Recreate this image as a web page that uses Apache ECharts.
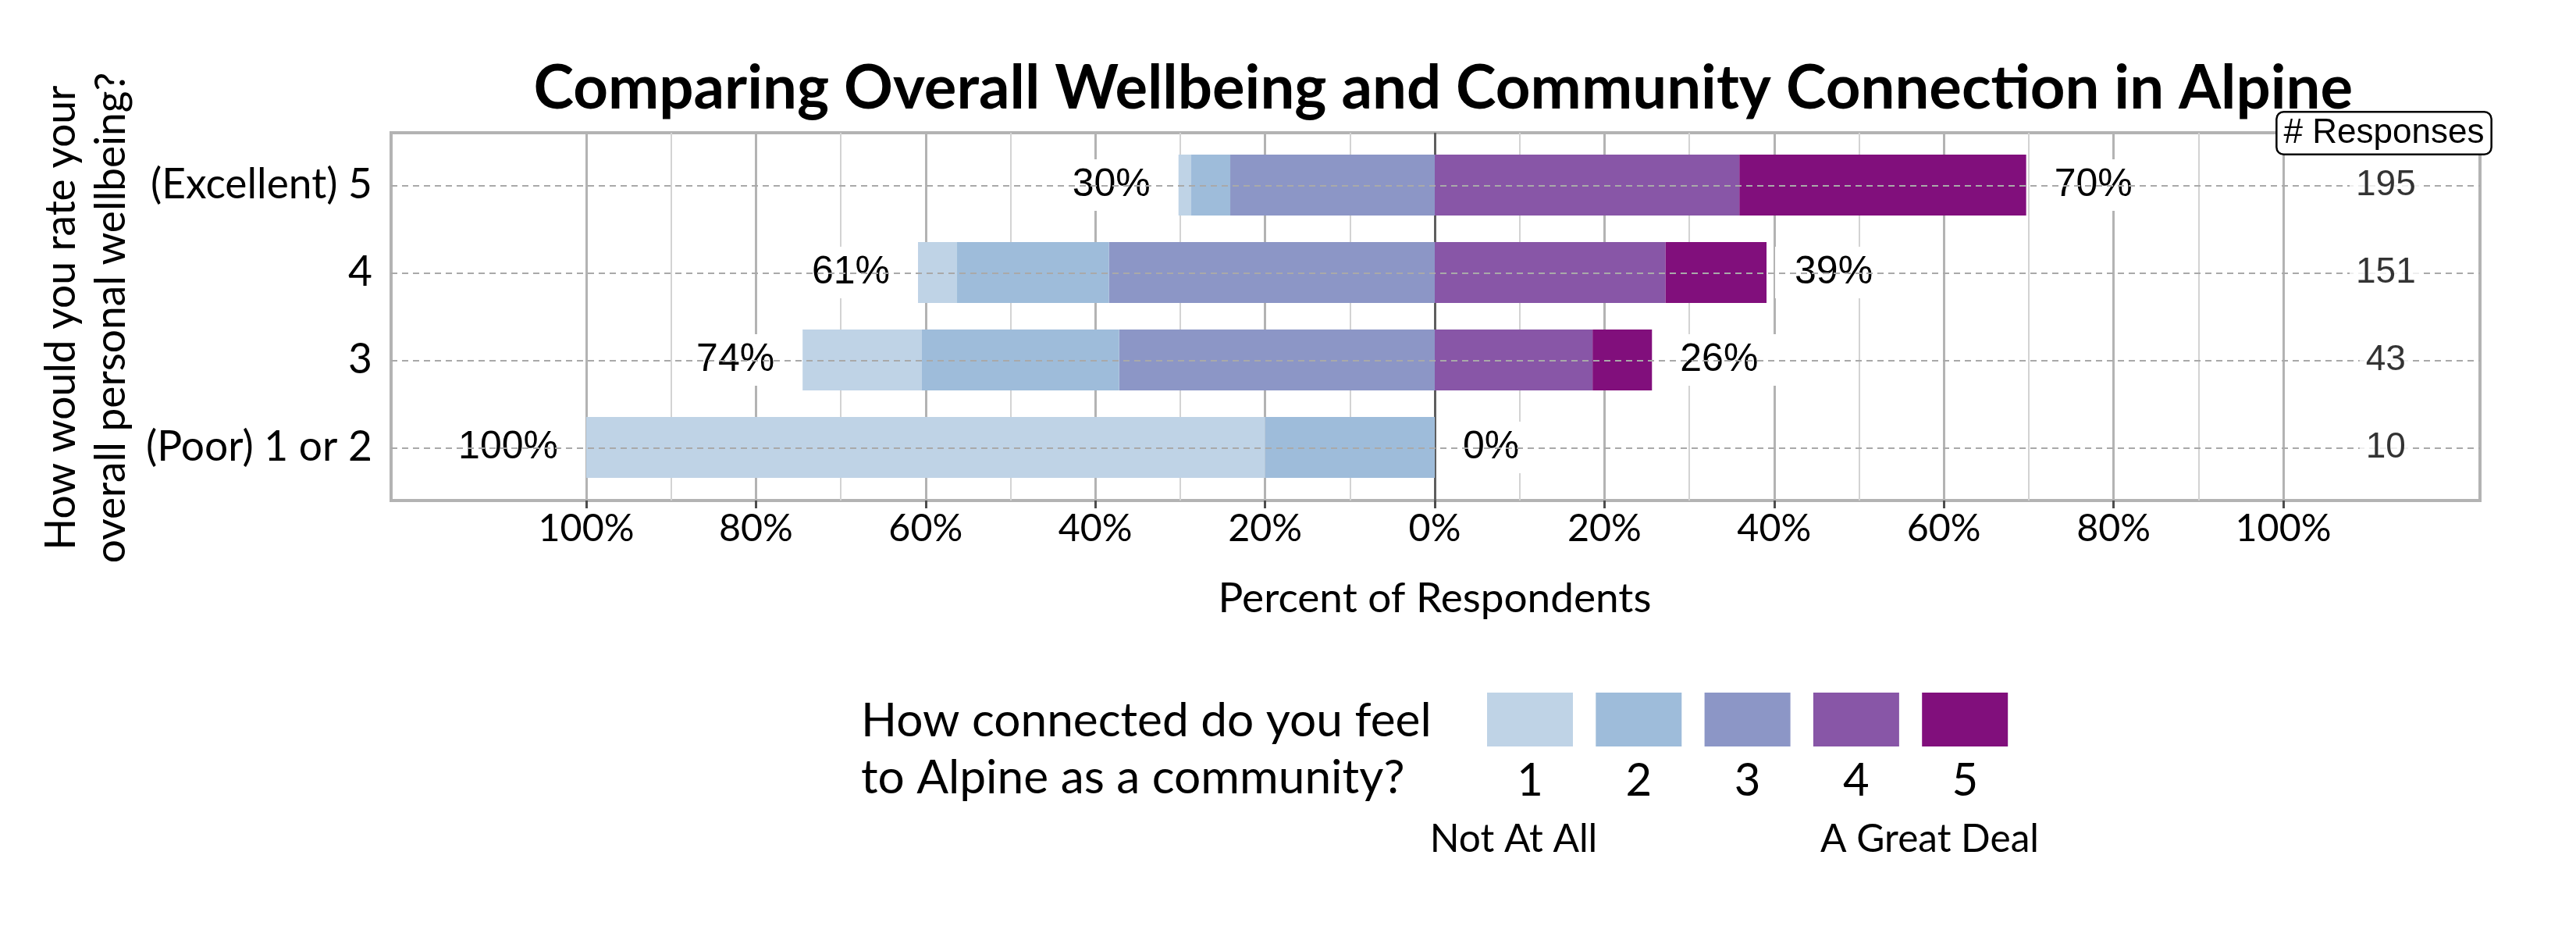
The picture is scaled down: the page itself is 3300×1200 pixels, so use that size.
<!DOCTYPE html>
<html>
<head>
<meta charset="utf-8">
<script src="https://cdn.jsdelivr.net/npm/echarts@6/dist/echarts.min.js"></script>
<style>
html,body{margin:0;padding:0;background:#ffffff;}
#chart{width:3300px;height:1200px;}
</style>
</head>
<body>
<div id="chart"></div>
<script>
// ---------------- DATA ----------------
const titleText = 'Comparing Overall Wellbeing and Community Connection in Alpine';
const categories = ['(Excellent) 5', '4', '3', '(Poor) 1 or 2'];   // top to bottom
const levelNames = ['1', '2', '3', '4', '5'];
// percent of respondents in each connection level, per wellbeing row (top to bottom)
const conn1 = [1.5, 4.6, 14.0, 80.0];
const conn2 = [4.6, 17.9, 23.3, 20.0];
const conn3 = [24.1, 38.4, 37.2, 0];
const conn4 = [35.9, 27.2, 18.6, 0];
const conn5 = [33.8, 11.9, 7.0, 0];
const leftTotals = [30, 61, 74, 100];
const rightTotals = [70, 39, 26, 0];
const responses = [195, 151, 43, 10];
const xTicks = [-100, -80, -60, -40, -20, 0, 20, 40, 60, 80, 100];
const colors = ['#bfd3e6', '#9ebcda', '#8c96c6', '#8856a7', '#810f7c'];

// ---------------- STYLE / LAYOUT ----------------
const CAL = 'Lato, "Noto Sans", sans-serif';
const ARI = '"Liberation Sans", Arial, sans-serif';
const cv = document.createElement('canvas').getContext('2d');
function fit(text, weight, target) {
  cv.font = weight + ' 100px Lato';
  return 100 * target / cv.measureText(text).width;
}
const titleFs = fit(titleText, 'bold', 2331);
const catFs = fit('(Excellent) 5', 'normal', 284);
const tickFs = fit('100%', 'normal', 123);
const xtFs = fit('Percent of Respondents', 'normal', 555);
const ytFs = fit('How would you rate your', 'normal', 595);
const legTitleFs = fit('How connected do you feel', 'normal', 731);
const legEndFs = fit('A Great Deal', 'normal', 280);
const legNumFs = 58;

const countX = 112;          // x position (percent units) of the response-count column
const legX0 = 1905, legStep = 139.3, legW = 110, legH = 69, legTop = 887;

const chart = echarts.init(document.getElementById('chart'), null, {renderer: 'canvas'});

const conn = [conn1, conn2, conn3, conn4, conn5];
const stackOrder = [2, 1, 0, 3, 4];
const barLabelBase = {
  show: true, fontFamily: ARI, fontSize: 50, color: '#000',
  backgroundColor: '#ffffff', padding: [8, 25], distance: 11
};

const barSeries = stackOrder.map(k => {
  let label = {show: false};
  if (k === 0) label = Object.assign({}, barLabelBase, {position: 'left', formatter: p => leftTotals[p.dataIndex] + '%'});
  if (k === 4) label = Object.assign({}, barLabelBase, {position: 'right', formatter: p => rightTotals[p.dataIndex] + '%'});
  return {
    type: 'bar', name: levelNames[k], xAxisIndex: 2, yAxisIndex: 2,
    stack: k < 3 ? 'negative' : 'positive',
    barWidth: 78, barGap: '-100%', z: 2, silent: true,
    data: conn[k].map(v => (k < 3 ? -v : v)),
    itemStyle: {color: colors[k]},
    label: label,
    emphasis: {disabled: true}
  };
});

const option = {
  backgroundColor: '#ffffff',
  animation: false,
  title: [{
    text: titleText, left: 1849 - 2331 / 2, top: 116 - 0.53 * titleFs, padding: 0,
    textStyle: {fontFamily: CAL, fontWeight: 'bold', fontSize: titleFs, color: '#000'}
  }],
  grid: [
    {left: 501, top: 170, width: 2676, height: 471, show: true, borderColor: '#b3b3b3', borderWidth: 4, backgroundColor: 'transparent', outerBoundsMode: 'none'},
    {left: 751, top: 170, width: 2174, height: 471, outerBoundsMode: 'none'},
    {left: 751, top: 181, width: 2174, height: 448, outerBoundsMode: 'none'}
  ],
  xAxis: [
    {gridIndex: 0, type: 'value', min: -123.1, max: 123.1, show: false},
    {
      gridIndex: 1, type: 'value', min: -100, max: 100, interval: 20,
      axisLine: {show: false},
      axisTick: {show: true, length: 10, lineStyle: {color: '#4d4d4d', width: 3}},
      axisLabel: {
        formatter: v => Math.abs(v) + '%', fontFamily: CAL, fontSize: tickFs, color: '#000',
        margin: 37.5 - 0.527 * tickFs
      },
      splitLine: {show: true, lineStyle: {color: xTicks.map(v => (v === 0 ? '#5e5e5e' : '#b3b3b3')), width: 3}},
      minorTick: {show: false, splitNumber: 2},
      minorSplitLine: {show: true, lineStyle: {color: '#d3d3d3', width: 2}},
      name: 'Percent of Respondents', nameLocation: 'middle', nameGap: 127 - 0.527 * xtFs,
      nameTextStyle: {fontFamily: CAL, fontSize: xtFs, color: '#000'}
    },
    {gridIndex: 2, type: 'value', min: -100, max: 100, show: false}
  ],
  yAxis: [
    {gridIndex: 0, type: 'value', min: -0.6, max: 3.6, inverse: true, show: false},
    {gridIndex: 1, type: 'value', min: 0, max: 1, show: false},
    {
      gridIndex: 2, type: 'category', data: categories, inverse: true,
      axisLine: {show: false}, axisTick: {show: false}, splitLine: {show: false},
      axisLabel: {fontFamily: CAL, fontSize: catFs, color: '#000', margin: 274}
    }
  ],
  series: [
    {
      type: 'scatter', name: 'rows', xAxisIndex: 0, yAxisIndex: 0, z: 1, silent: true,
      symbolSize: 1, itemStyle: {color: 'transparent'},
      data: categories.map((c, i) => [countX, i]),
      markLine: {
        silent: true, symbol: ['none', 'none'], label: {show: false},
        lineStyle: {type: [8, 6], color: '#a9a9a9', width: 2},
        emphasis: {disabled: true},
        data: categories.map((c, i) => ({yAxis: i}))
      }
    },
    {
      type: 'scatter', name: 'ticks', xAxisIndex: 1, yAxisIndex: 1, data: [], silent: true
    }
  ].concat(barSeries).concat([
    {
      type: 'scatter', name: 'responses', xAxisIndex: 0, yAxisIndex: 0, z: 5, silent: true,
      symbolSize: 1, itemStyle: {color: 'transparent'},
      data: responses.map((n, i) => [countX, i, n]),
      label: {
        show: true, position: 'inside', formatter: p => String(p.value[2]),
        fontFamily: ARI, fontSize: 46, color: '#000', backgroundColor: '#ffffff', padding: [6, 8]
      }
    }
  ]),
  graphic: [
    {
      type: 'text', x: 111, y: 407, rotation: Math.PI / 2,
      style: {
        text: 'How would you rate your\noverall personal wellbeing?', fontFamily: CAL, fontSize: ytFs,
        lineHeight: 64, fill: '#000', align: 'center', verticalAlign: 'middle'
      }
    },
    {
      type: 'text', x: 3054, y: 170.5, z: 100,
      style: {
        text: '# Responses', fontFamily: ARI, fontSize: 44, fill: '#000', align: 'center', verticalAlign: 'middle',
        backgroundColor: '#ffffff', borderColor: '#000', borderWidth: 2.5, borderRadius: 8, padding: [4, 8]
      }
    },
    {
      type: 'text', x: 1103, y: 960,
      style: {
        text: 'How connected do you feel\nto Alpine as a community?', fontFamily: CAL, fontSize: legTitleFs,
        lineHeight: 73, fill: '#000', align: 'left', verticalAlign: 'middle'
      }
    }
  ].concat(levelNames.map((n, i) => ({
    type: 'rect', shape: {x: legX0 + i * legStep, y: legTop, width: legW, height: legH},
    style: {fill: colors[i]}
  }))).concat(levelNames.map((n, i) => ({
    type: 'text', x: legX0 + legW / 2 + i * legStep, y: 1000,
    style: {text: n, fontFamily: CAL, fontSize: legNumFs, fill: '#000', align: 'center', verticalAlign: 'middle'}
  }))).concat([
    {type: 'text', x: 1939, y: 1075, style: {text: 'Not At All', fontFamily: CAL, fontSize: legEndFs, fill: '#000', align: 'center', verticalAlign: 'middle'}},
    {type: 'text', x: 2472, y: 1075, style: {text: 'A Great Deal', fontFamily: CAL, fontSize: legEndFs, fill: '#000', align: 'center', verticalAlign: 'middle'}}
  ])
};

chart.setOption(option);
</script>
</body>
</html>
